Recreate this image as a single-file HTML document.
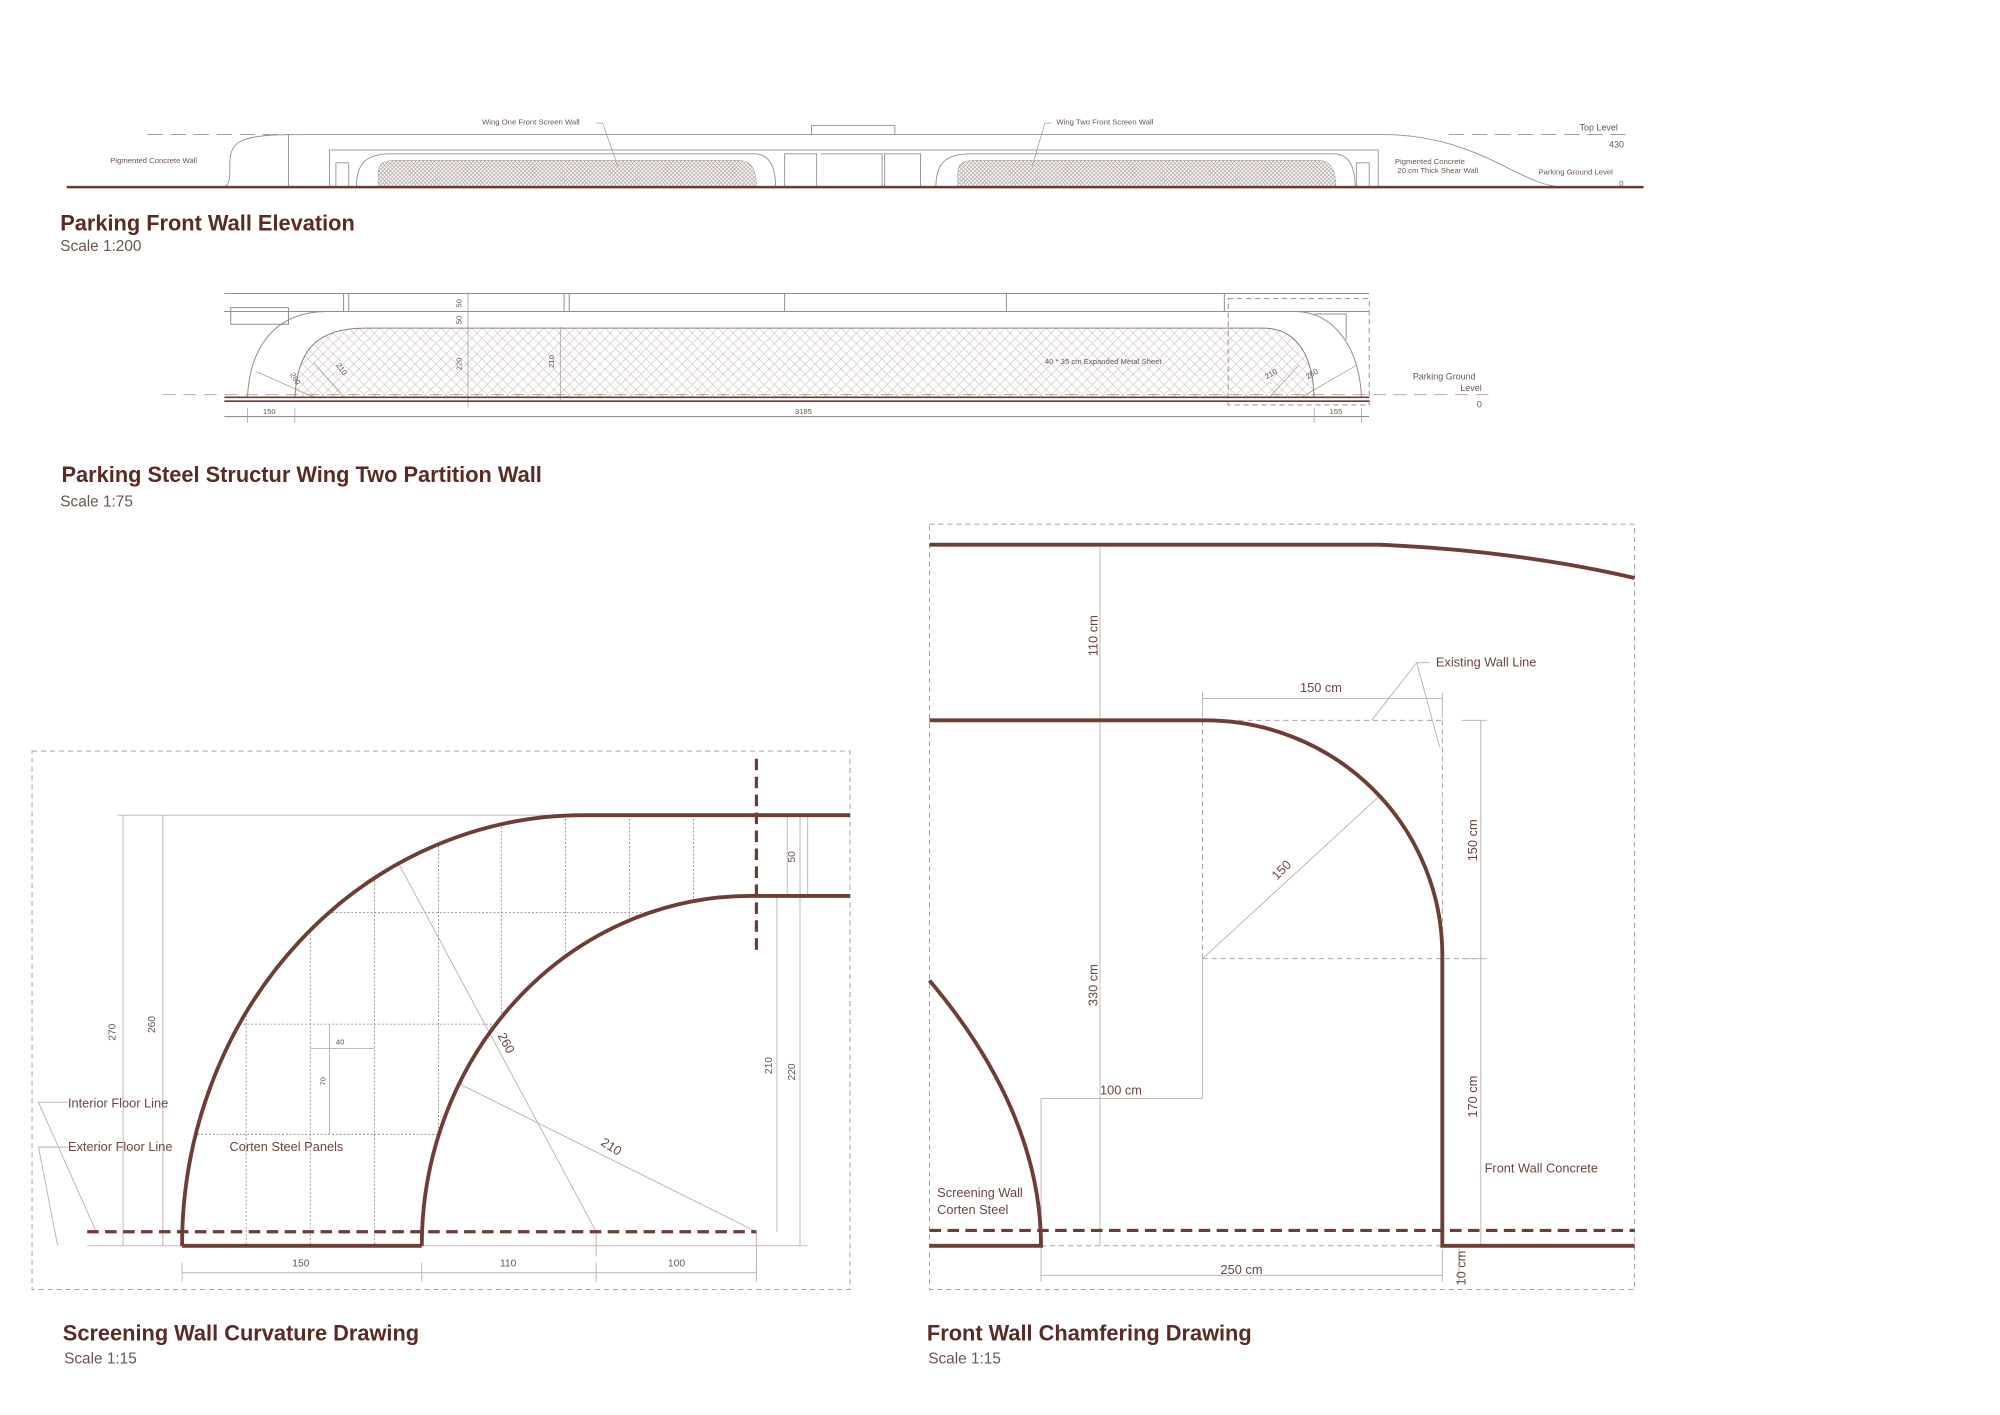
<!DOCTYPE html>
<html><head><meta charset="utf-8"><style>
html,body{margin:0;padding:0;background:#fff;}
svg{display:block;}
text{font-family:"Liberation Sans",sans-serif;fill:#5a3530;}
.t{font-size:17px;font-weight:bold;fill:#5a2a25;}
.s{font-size:12px;fill:#6a5550;}
.sm{font-size:6px;fill:#6a5550;}
.md{font-size:10px;fill:#6a4540;}
.dm{font-size:8px;fill:#6a5550;}
</style></head><body>
<svg width="2000" height="1415" viewBox="0 0 1560 1104" preserveAspectRatio="none" xmlns="http://www.w3.org/2000/svg">
<defs>
<pattern id="mesh" width="3" height="3" patternUnits="userSpaceOnUse">
<path d="M0,0L3,3M3,0L0,3" stroke="#a89c99" stroke-width="0.5"/>
</pattern>
<pattern id="mesh2" width="8" height="8" patternUnits="userSpaceOnUse">
<path d="M0,0L8,8M8,0L0,8" stroke="#cfc4c2" stroke-width="0.5"/>
</pattern>
<clipPath id="outerc"><path d="M142,972 A313,336 0 0 1 455,636 L590,636 L590,972 Z"/></clipPath>
</defs>
<rect width="1560" height="1104" fill="#fff"/>

<!-- ===== Section 1 ===== -->
<g fill="none" stroke="#9a8e8c" stroke-width="0.7">
<path d="M115,105H228 M1130,105H1272" stroke-dasharray="12 6"/>
<path d="M175,146 C185,140 172,118 188,110 C200,105 215,105 240,105 H1080 C1120,105 1150,118 1170,128 C1190,138 1205,146 1220,146"/>
<path d="M257,146V117H1075V146"/>
<path d="M278,146 C278,128 285,120 305,120 H588 C600,120 605,130 605,146"/>
<path d="M730,146 C730,128 737,120 757,120 H1040 C1052,120 1057,130 1057,146"/>
<path d="M633,105V98H698V105"/>
<path d="M612,146V120H637V146 M690,146V120H718V146 M640,120H688V146 M262,146V127H272V146 M1058,146V127H1068V146"/>
<path d="M225,105V146"/>
<path d="M465,96H470L482,130 M820,96H815L805,130" stroke-width="0.5"/>
</g>
<path d="M295,146V135 C295,127 300,125 310,125 H575 C585,125 590,130 590,146Z M747,146V135 C747,127 752,125 762,125 H1027 C1037,125 1042,130 1042,146Z" fill="url(#mesh)" stroke="#a99" stroke-width="0.4"/>
<path d="M52,146H1282" stroke="#6b3a33" stroke-width="2"/>
<text class="sm" x="86" y="127">Pigmented Concrete Wall</text>
<text class="sm" x="376" y="97">Wing One Front Screen Wall</text>
<text class="sm" x="824" y="97">Wing Two Front Screen Wall</text>
<text class="sm" x="1232" y="102" style="font-size:7px">Top Level</text>
<text class="sm" x="1255" y="115" style="font-size:7px">430</text>
<text class="sm" x="1088" y="128">Pigmented Concrete</text>
<text class="sm" x="1090" y="135">20 cm Thick Shear Wall</text>
<text class="sm" x="1200" y="136">Parking Ground Level</text>
<text class="sm" x="1263" y="145">0</text>
<text class="t" x="47" y="180">Parking Front Wall Elevation</text>
<text class="s" x="47" y="196">Scale 1:200</text>

<!-- ===== Section 2 ===== -->
<path d="M230,310 C232,270 250,256 285,256 H985 C1010,256 1024,275 1025,310 Z" fill="url(#mesh2)" stroke="#8d7f7c" stroke-width="0.8"/>
<g fill="none" stroke="#9a8e8c" stroke-width="0.8">
<path d="M175,229H1068 M175,243H1068"/>
<path d="M268,229V243 M272,229V243 M440,229V243 M444,229V243 M612,229V243 M785,229V243 M955,229V243"/>
<path d="M193,310 C195,270 215,243 255,243 H1010 C1040,243 1060,270 1062,310"/>
<rect x="180" y="240" width="45" height="13"/>
<path d="M1025,245H1050V265" />
<path d="M958,233H1068V316H958Z" stroke-dasharray="4 3"/>
<path d="M127,308H1165" stroke-dasharray="10 6" stroke-width="0.6"/>
<path d="M175,325H1068" />
<path d="M365,228V318 M437,255V312 M193,318V330 M230,318V330 M1025,318V330 M1062,318V330" stroke-width="0.5"/>
<path d="M200,290L245,310 M245,283L268,310 M1013,285L990,310 M1058,285L1015,310" stroke-width="0.5"/>
</g>
<path d="M175,310H1068 M175,313H1068" stroke="#6b3a33" stroke-width="1.2"/>
<text class="sm" x="205" y="323">150</text>
<text class="sm" x="620" y="323">3185</text>
<text class="sm" x="1037" y="323">155</text>
<text class="sm" transform="translate(360,240) rotate(-90)">50</text>
<text class="sm" transform="translate(360,253) rotate(-90)">50</text>
<text class="sm" transform="translate(360,289) rotate(-90)">220</text>
<text class="sm" transform="translate(432,287) rotate(-90)">210</text>
<text class="sm" transform="translate(226,292) rotate(60)">260</text>
<text class="sm" transform="translate(262,285) rotate(55)">210</text>
<text class="sm" transform="translate(988,296) rotate(-30)">210</text>
<text class="sm" transform="translate(1020,296) rotate(-30)">260</text>
<text class="sm" x="815" y="284">40 * 35 cm Expanded Metal Sheet</text>
<text class="sm" x="1102" y="296" style="font-size:7px">Parking Ground</text>
<text class="sm" x="1139" y="305" style="font-size:7px">Level</text>
<text class="sm" x="1152" y="318" style="font-size:7px">0</text>
<text class="t" x="48" y="376">Parking Steel Structur Wing Two Partition Wall</text>
<text class="s" x="47" y="395">Scale 1:75</text>

<!-- ===== Section 3 ===== -->
<rect x="25" y="586" width="638" height="420" fill="none" stroke="#999" stroke-width="0.7" stroke-dasharray="4 3"/>
<g clip-path="url(#outerc)" stroke="#8a7a77" stroke-width="0.6" stroke-dasharray="1.5 1.5" fill="none">
<path d="M192,636V972 M242,636V972 M292,636V972 M342,636V972 M391,636V972 M441,636V972 M491,636V972 M541,636V972"/>
<path d="M130,712H600 M130,799H600 M130,885H600"/>
</g>
<path d="M329,972 A256,273 0 0 1 585,699 L600,699 L600,980 L329,980Z" fill="#fff"/>
<g fill="none" stroke="#b9b0ae" stroke-width="0.7">
<path d="M92,636H455 M96,636V972 M127,636V972 M606,699V961 M624,636V972 M614,636V699 M630,699V636"/>
<path d="M142,993H590 M142,985V1000 M329,985V1000 M465,985V1000 M590,985V1000"/>
<path d="M465,961L310,672 M590,961L357,845 M465,961V980 M590,961V993"/>
<path d="M242,818H292 M257,799V885"/>
<path d="M53,860H30L75,961 M53,895H30L45,972"/>
<path d="M68,972H142 M329,972H630"/>
</g>
<path d="M142,972 A313,336 0 0 1 455,636 H663 M329,972 A256,273 0 0 1 585,699 H663" fill="none" stroke="#6e3d36" stroke-width="3"/>
<path d="M142,972H329" stroke="#6e3d36" stroke-width="3"/>
<path d="M68,961H590" stroke="#6e3d36" stroke-width="2.5" stroke-dasharray="9 5"/>
<path d="M590,592V745" stroke="#6e3d36" stroke-width="2.5" stroke-dasharray="9 5"/>
<text class="dm" transform="translate(90,812) rotate(-90)">270</text>
<text class="dm" transform="translate(121,806) rotate(-90)">260</text>
<text class="dm" transform="translate(602,838) rotate(-90)">210</text>
<text class="dm" transform="translate(620,843) rotate(-90)">220</text>
<text class="dm" transform="translate(620,673) rotate(-90)">50</text>
<text class="dm" x="228" y="988">150</text>
<text class="dm" x="390" y="988">110</text>
<text class="dm" x="521" y="988">100</text>
<text class="sm" x="262" y="815">40</text>
<text class="sm" transform="translate(254,847) rotate(-90)">70</text>
<text class="md" transform="translate(388,808) rotate(62)">260</text>
<text class="md" transform="translate(468,893) rotate(32)">210</text>
<text class="md" x="53" y="864">Interior Floor Line</text>
<text class="md" x="53" y="898">Exterior Floor Line</text>
<text class="md" x="179" y="898">Corten Steel Panels</text>
<text class="t" x="49" y="1046">Screening Wall Curvature Drawing</text>
<text class="s" x="50" y="1064">Scale 1:15</text>

<!-- ===== Section 4 ===== -->
<rect x="725" y="409" width="550" height="597" fill="none" stroke="#999" stroke-width="0.7" stroke-dasharray="4 3"/>
<g fill="none" stroke="#999" stroke-width="0.7" stroke-dasharray="4 3">
<path d="M938,562H1125 M938,562V748 M938,748H1155 M1125,562V748"/>
<path d="M812,972H1125"/>
</g>
<g fill="none" stroke="#b9b0ae" stroke-width="0.7">
<path d="M938,545H1125 M938,540V560 M1125,540V560"/>
<path d="M1155,562V972 M1140,562H1160 M1140,748H1160"/>
<path d="M858,425V972"/>
<path d="M812,857H938 M938,748V857 M812,857V1000"/>
<path d="M812,995H1125 M1125,975V1000"/>
<path d="M938,748L1075,622"/>
<path d="M1115,517H1105L1070,562 M1105,517L1123,583"/>
<path d="M1138,972V1000"/>
</g>
<g fill="none" stroke="#6e3d36" stroke-width="3">
<path d="M725,425H1075 C1150,428 1220,438 1275,451"/>
<path d="M725,562H940 A185,183 0 0 1 1125,745 V972 H1275"/>
<path d="M725,765 C780,830 812,900 812,972 H725"/>
</g>
<path d="M725,960H1275" stroke="#6e3d36" stroke-width="2.5" stroke-dasharray="9 5"/>
<text class="md" x="1014" y="540">150 cm</text>
<text class="md" transform="translate(1152,672) rotate(-90)">150 cm</text>
<text class="md" transform="translate(1152,872) rotate(-90)">170 cm</text>
<text class="md" transform="translate(856,512) rotate(-90)">110 cm</text>
<text class="md" transform="translate(856,785) rotate(-90)">330 cm</text>
<text class="md" x="858" y="854">100 cm</text>
<text class="md" x="952" y="994">250 cm</text>
<text class="md" transform="translate(1143,1003) rotate(-90)">10 cm</text>
<text class="md" transform="translate(996,687) rotate(-45)">150</text>
<text class="md" x="1120" y="520">Existing Wall Line</text>
<text class="md" x="1158" y="915">Front Wall Concrete</text>
<text class="md" x="731" y="934">Screening Wall</text>
<text class="md" x="731" y="947">Corten Steel</text>
<text class="t" x="723" y="1046">Front Wall Chamfering Drawing</text>
<text class="s" x="724" y="1064">Scale 1:15</text>
</svg>
</body></html>
